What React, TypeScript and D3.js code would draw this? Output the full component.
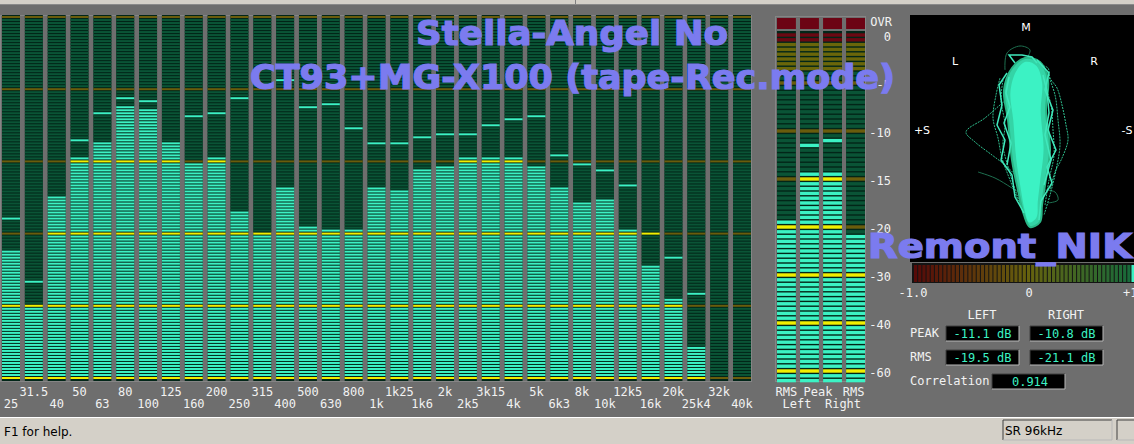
import React from 'react';
import * as d3 from 'd3';

// ---------- DATA ----------
const bands = ['25','31.5','40','50','63','80','100','125','160','200','250','315','400','500','630','800','1k','1k25','1k6','2k','2k5','3k15','4k','5k','6k3','8k','10k','12k5','16k','20k','25k4','32k','40k'];
const bandLevel = [-32.3,-39.9,-24.9,-19.5,-17.5,-12.5,-12.9,-17.5,-20.1,-19.5,-26.9,-29.9,-23.4,-28.9,-29.4,-29.4,-23.5,-24.0,-20.9,-20.5,-19.5,-19.5,-19.5,-20.5,-23.5,-25.8,-25.3,-29.4,-34.3,-38.9,-45.8,-60,-60];
const bandPeak = [-27.8,-36.6,-24.9,-17.0,-13.2,-11.1,-11.5,-17.5,-13.6,-13.2,-11.1,-29.9,-8.6,-12.6,-12.0,-15.5,-17.6,-17.6,-16.6,-16.1,-16.1,-15.1,-14.1,-13.6,-19.1,-20.5,-21.1,-23.5,-29.9,-33.5,-38.5,-60,-60];
const specRefLines = [0,-10,-20,-30,-40,-50];

const meterNames = ['RMS Left','Peak Left','Peak Right','RMS Right'];
const meterLevel = [-19.5,-13.8,-13.8,-21.1];
const meterHold = [-19.5,-11.1,-10.8,-21.1];
const meterTicks = [0,-5,-10,-15,-20,-30,-40,-60];
const meterTickLabels = ['0','-5','-10','-15','-20','-30','-40','-60'];
const meterRefTicks = [-5,-10,-15,-20,-30,-40,-60];
const meterTopLabels = ['RMS','Peak','RMS'];
const meterBottomLabels = ['Left','Right'];

const readoutCols = ['LEFT','RIGHT'];
const readoutRows = ['PEAK','RMS'];
const peakText = ['-11.1 dB','-10.8 dB'];
const rmsText = ['-19.5 dB','-21.1 dB'];
const correlation = 0.914;
const corrLabels = ['-1.0','0','+1'];

// goniometer traces in (S, M) units
const gonioCore: [number, number][] = [[-0.15,0.67],[-0.02,0.77],[0.13,0.73],[0.21,0.55],[0.19,0.25],[0.23,-0.15],[0.18,-0.5],[0.15,-0.7],[0.13,-0.87],[0.03,-0.92],[-0.03,-0.8],[-0.09,-0.55],[-0.15,-0.25],[-0.19,0.15],[-0.23,0.45]];
const gonioTraces: [number, number][][] = [
  [[-0.15,0.40],[-0.27,0.30],[-0.42,0.17],[-0.61,0.03],[-0.52,-0.07],[-0.35,-0.20],[-0.22,-0.30],[-0.09,-0.43],[0.03,-0.60]],
  [[0.13,0.70],[0.21,0.67],[0.23,0.57],[0.30,0.47],[0.35,0.30],[0.39,0.10],[0.41,-0.05],[0.35,-0.23],[0.28,-0.37],[0.23,-0.55]],
  [[-0.27,0.57],[-0.31,0.40],[-0.34,0.17],[-0.29,-0.03],[-0.25,-0.23],[-0.17,-0.45],[-0.09,-0.65],[-0.02,-0.80]],
  [[0.20,0.63],[0.28,0.40],[0.31,0.15],[0.33,-0.10],[0.29,-0.35],[0.23,-0.60],[0.17,-0.80]],
  [[-0.24,0.55],[-0.26,0.35],[-0.22,0.10],[-0.24,-0.10],[-0.18,-0.35],[-0.10,-0.60],[0.00,-0.85]],
  [[0.18,0.50],[0.24,0.30],[0.26,0.05],[0.27,-0.20],[0.22,-0.45],[0.18,-0.70]],
];
const gonioJagged: [number, number][][] = [
  [[-0.20,0.62],[-0.28,0.50],[-0.25,0.30],[-0.30,0.10],[-0.22,-0.05],[-0.26,-0.25],[-0.15,-0.40],[-0.12,-0.62],[-0.03,-0.78]],
  [[0.10,0.75],[0.22,0.62],[0.18,0.45],[0.26,0.25],[0.21,0.05],[0.29,-0.15],[0.20,-0.32],[0.25,-0.48],[0.14,-0.66],[0.12,-0.85]],
  [[-0.12,0.72],[-0.18,0.80],[-0.05,0.80],[0.05,0.78],[0.10,0.72]],
  [[-0.18,0.58],[-0.21,0.42],[-0.17,0.28],[-0.23,0.12],[-0.16,-0.08],[-0.20,-0.30]],
  [[0.16,0.60],[0.20,0.44],[0.22,0.22],[0.18,0.00],[0.24,-0.25],[0.17,-0.50]],
];
const gonioFaint: [number, number][][] = [
  [[-0.22,0.65],[-0.20,0.82],[-0.07,0.89],[0.03,0.85],[0.00,0.77]],
  [[-0.49,-0.37],[-0.32,-0.43],[-0.15,-0.53],[0.01,-0.63]],
  [[0.15,-0.55],[0.28,-0.57],[0.31,-0.65],[0.21,-0.68]],
];
const gonioLabels = [{t:'M',s:-0.01,m:1.08},{t:'L',s:-0.72,m:0.74},{t:'R',s:0.67,m:0.74},{t:'+S',s:-1.05,m:0.05},{t:'-S',s:1.0,m:0.05}];

const titleLine1 = 'Stella-Angel No';
const titleLine2 = 'CT93+MG-X100 (tape-Rec.mode)';
const signature = 'Remont_NIK';

// ---------- STYLE ----------
const BG = '#6e6e6e';
const LIT = '#3cf2c4';
const UNLIT = '#0a5436';
const BARBG = '#022618';
const YEL = '#f2ee00';
const OLIVE = '#6a5c0c';
const TXT = '#f2f2f2';
const TITLE = '#7b7bef';
const MONO = '"DejaVu Sans Mono", monospace';
const SANS = '"DejaVu Sans", sans-serif';

export default function App() {
  const x = d3.scaleBand<string>().domain(bands).range([2, 751]).paddingInner(0.212).paddingOuter(0);
  const bw = x.bandwidth();
  const y = d3.scaleLinear().domain([0, -50]).range([17, 378]);
  const nSeg = 121;

  const specRects: React.ReactNode[] = [];
  bands.forEach((b, i) => {
    const x0 = x(b)!;
    specRects.push(<rect key={'bg'+i} x={x0} y={15} width={bw} height={366} fill={BARBG} />);
    const peakJ = Math.round(-bandPeak[i] * (nSeg - 1) / 50);
    for (let j = 0; j < nSeg; j++) {
      const db = -j * 50 / (nSeg - 1);
      const isRef = specRefLines.some(r => Math.abs(r - db) < 1e-6);
      const lit = db <= bandLevel[i] + 1e-6 || j === peakJ;
      const fill = lit ? (isRef ? YEL : LIT) : (isRef ? OLIVE : UNLIT);
      specRects.push(<rect key={i+'_'+j} x={x0} y={y(db) - 1} width={bw} height={2} fill={fill} />);
    }
  });

  // meters
  const mx = d3.scaleBand<string>().domain(meterNames).range([777, 865]).paddingInner(0.18).paddingOuter(0);
  const mbw = mx.bandwidth();
  const my = d3.scaleLinear().domain([0, -20, -40, -60]).range([37, 229, 325, 373]);
  const meterRects: React.ReactNode[] = [];
  meterNames.forEach((n, i) => {
    const x0 = mx(n)!;
    meterRects.push(<rect key={'mbg'+i} x={x0} y={31} width={mbw} height={350} fill={BARBG} />);
    meterRects.push(<rect key={'ovr'+i} x={x0} y={18} width={mbw} height={11} fill="#6c0414" />);
    const centers = d3.range(73).map(j => 35 + j * 4.8);
    const holdC = my(meterHold[i]);
    let holdJ = 0; let best = 1e9;
    centers.forEach((c, j) => { if (Math.abs(c - holdC) < best) { best = Math.abs(c - holdC); holdJ = j; } });
    centers.forEach((cy, j) => {
      const db = my.invert(cy);
      const isRef = meterRefTicks.some(t => Math.abs(my(t) - cy) < 2.4);
      const lit = db <= meterLevel[i] || j === holdJ;
      let fill: string;
      if (lit) fill = isRef ? YEL : LIT;
      else if (db > -0.6) fill = '#6a0812';
      else if (db > -3.6) fill = '#6a660a';
      else fill = isRef ? OLIVE : UNLIT;
      meterRects.push(<rect key={'m'+i+'_'+j} x={x0} y={cy - 1.7} width={mbw} height={3.4} fill={fill} />);
    });
  });

  // correlation bar
  const cx = d3.scaleLinear().domain([-1, 1]).range([914, 1144]);
  const corrColor = d3.scaleLinear<string>().domain([-1, 0, 1]).range(['#560808', '#66620e', '#0e6c40']).interpolate(d3.interpolateRgb);
  const nCorr = 55;
  const corrStep = (cx(1) - cx(-1)) / nCorr;
  const corrRects = d3.range(nCorr).map(k => {
    const x0 = cx(-1) + k * corrStep;
    const v = cx.invert(x0 + corrStep / 2);
    const lit = correlation >= cx.invert(x0) && correlation < cx.invert(x0 + corrStep);
    return <rect key={'c'+k} x={x0} y={265} width={corrStep - 1} height={17} fill={lit ? LIT : corrColor(v)} />;
  });

  // goniometer
  const gx = d3.scaleLinear().domain([-1, 1]).range([927, 1127]);
  const gy = d3.scaleLinear().domain([-1, 1]).range([235, 35]);
  const gline = d3.line<[number, number]>().x(d => gx(d[0])).y(d => gy(d[1])).curve(d3.curveCatmullRom);
  const gjag = d3.line<[number, number]>().x(d => gx(d[0])).y(d => gy(d[1]));
  const gclosed = d3.line<[number, number]>().x(d => gx(d[0])).y(d => gy(d[1])).curve(d3.curveCatmullRomClosed);

  const sunken = (x0: number, y0: number, w: number, h: number, fill: string, key: string) => (
    <g key={key}>
      <rect x={x0} y={y0} width={w} height={h} fill={fill} />
      <path d={`M${x0},${y0 + h}V${y0}H${x0 + w}`} stroke="#404040" fill="none" />
      <path d={`M${x0 + w},${y0}V${y0 + h}H${x0}`} stroke="#b8b8b8" fill="none" />
    </g>
  );

  return (
    <svg width={1134} height={444} style={{ position: 'absolute', left: 0, top: 0 }} xmlns="http://www.w3.org/2000/svg">
      <rect x={0} y={0} width={1134} height={444} fill={BG} />
      {/* top strip */}
      <rect x={0} y={0} width={1134} height={4} fill="#d4d0c8" />
      <line x1={0} x2={1134} y1={4.5} y2={4.5} stroke="#8a8a8a" />
      <line x1={575.5} x2={575.5} y1={0} y2={4} stroke="#808080" />

      {/* spectrum frame */}
      <rect x={0.5} y={15.5} width={751} height={366} fill="none" stroke="#858585" />
      {specRects}

      {/* spectrum labels */}
      {bands.map((b, i) => (
        <text key={'bl'+i} x={x(b)! + bw / 2} y={i % 2 === 1 ? 396 : 408} textAnchor="middle" fontFamily={MONO} fontSize={12} fill={TXT}>{b}</text>
      ))}

      {/* meters */}
      <rect x={775.5} y={16.5} width={90} height={365} fill="none" stroke="#858585" />
      {meterRects}
      <text x={892} y={26} textAnchor="end" fontFamily={MONO} fontSize={12} fill={TXT}>OVR</text>
      {meterTicks.map((t, i) => (
        <text key={'mt'+i} x={891} y={my(t) + 4} textAnchor="end" fontFamily={MONO} fontSize={12} fill={TXT}>{meterTickLabels[i]}</text>
      ))}
      <text x={mx(meterNames[0])! + mbw / 2} y={396} textAnchor="middle" fontFamily={MONO} fontSize={12} fill={TXT}>{meterTopLabels[0]}</text>
      <text x={(mx(meterNames[1])! + mx(meterNames[2])! + mbw) / 2 - 3} y={396} textAnchor="middle" fontFamily={MONO} fontSize={12} fill={TXT}>{meterTopLabels[1]}</text>
      <text x={mx(meterNames[3])! + mbw / 2 - 2} y={396} textAnchor="middle" fontFamily={MONO} fontSize={12} fill={TXT}>{meterTopLabels[2]}</text>
      <text x={797} y={408} textAnchor="middle" fontFamily={MONO} fontSize={12} fill={TXT}>{meterBottomLabels[0]}</text>
      <text x={843} y={408} textAnchor="middle" fontFamily={MONO} fontSize={12} fill={TXT}>{meterBottomLabels[1]}</text>

      {/* goniometer */}
      <rect x={910} y={15} width={224} height={247} fill="#000" />
      {gonioFaint.map((t, i) => <path key={'gf'+i} d={gline(t)!} fill="none" stroke="#1e7050" strokeWidth={1} />)}
      {gonioTraces.map((t, i) => <path key={'gt'+i} d={gline(t)!} fill="none" stroke="#2fbf8e" strokeWidth={1} strokeDasharray="2 1" />)}
      <path d={gclosed(gonioCore)!} fill="#34d4a6" stroke="#2ab888" strokeWidth={2} />
      {gonioJagged.map((t, i) => <path key={'gj'+i} d={gjag(t)!} fill="none" stroke="#40e8bc" strokeWidth={1.5} />)}
      <path d={gclosed(gonioCore.map(p => [p[0] * 0.72, p[1] * 0.95] as [number, number]))!} fill={LIT} />
      {gonioLabels.map((l, i) => (
        <text key={'gl'+i} x={gx(l.s)} y={gy(l.m) + 4} textAnchor="middle" fontFamily={SANS} fontSize={11} fill="#fff">{l.t}</text>
      ))}

      {/* correlation bar */}
      <rect x={912} y={263} width={222} height={20} fill="#141414" />
      {corrRects}
      {corrLabels.map((l, i) => (
        <text key={'cl'+i} x={i === 0 ? 913 : i === 1 ? 1029 : 1123} y={297} textAnchor={i === 2 ? 'start' : 'middle'} fontFamily={MONO} fontSize={12} fill={TXT}>{l}</text>
      ))}

      {/* readouts */}
      {readoutCols.map((c, i) => (
        <text key={'rc'+i} x={i === 0 ? 982 : 1066} y={319} textAnchor="middle" fontFamily={MONO} fontSize={12} fill={TXT}>{c}</text>
      ))}
      {readoutRows.map((r, i) => (
        <text key={'rr'+i} x={910} y={337 + i * 24} fontFamily={MONO} fontSize={12} fill={TXT}>{r}</text>
      ))}
      {[peakText, rmsText].map((row, ri) => row.map((t, ci) => (
        <g key={'ro'+ri+ci}>
          {sunken(ci === 0 ? 946 : 1030, 326 + ri * 24, 73, 15, '#000', 'rb'+ri+ci)}
          <text x={(ci === 0 ? 946 : 1030) + 36.5} y={338 + ri * 24} textAnchor="middle" fontFamily={MONO} fontSize={12} fill={LIT}>{t}</text>
        </g>
      )))}
      <text x={910} y={385} fontFamily={MONO} fontSize={12} fill={TXT}>Correlation</text>
      {sunken(992, 374, 73, 15, '#000', 'corrbox')}
      <text x={1030} y={386} textAnchor="middle" fontFamily={MONO} fontSize={12} fill={LIT}>{correlation.toFixed(3)}</text>

      {/* status bar */}
      <rect x={0} y={417} width={1134} height={27} fill="#d4d0c8" />
      <line x1={0} x2={1134} y1={417.5} y2={417.5} stroke="#ffffff" />
      <text x={4} y={436} fontFamily={SANS} fontSize={12} fill="#000">F1 for help.</text>
      {sunken(1003, 420, 109, 20, '#d4d0c8', 'sr')}
      <text x={1005} y={435} fontFamily={SANS} fontSize={12} fill="#000">SR 96kHz</text>
      {sunken(1117, 420, 20, 20, '#d4d0c8', 'sr2')}

      {/* overlay titles */}
      <g fill={TITLE} stroke={TITLE} strokeWidth={1.2} fontFamily={SANS} fontWeight="bold" fontSize={33}>
        <text x={416} y={45} textLength={312} lengthAdjust="spacingAndGlyphs">{titleLine1}</text>
        <text x={250} y={89} textLength={645} lengthAdjust="spacingAndGlyphs">{titleLine2}</text>
        <text x={868} y={258} textLength={264} lengthAdjust="spacingAndGlyphs">{signature}</text>
      </g>
    </svg>
  );
}
